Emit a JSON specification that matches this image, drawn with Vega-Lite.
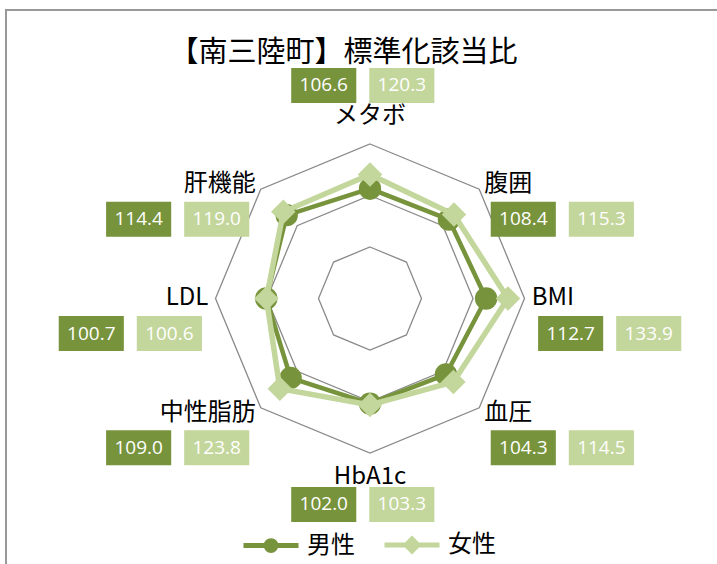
{
  "$schema": "https://vega.github.io/schema/vega-lite/v6.json",
  "width": 711,
  "height": 554,
  "autosize": {"type": "none"},
  "padding": {"left": 6, "top": 10, "right": 0, "bottom": 0},
  "background": "white",
  "config": {
    "view": {"stroke": "#999999", "strokeWidth": 2, "strokeDash": [711, 1265, 554]},
    "text": {"font": "Noto Sans CJK JP"}
  },
  "title": {
    "text": "【南三陸町】標準化該当比",
    "font": "Noto Sans CJK JP",
    "fontSize": 29,
    "fontWeight": "normal",
    "color": "#000000",
    "anchor": "middle",
    "frame": "group",
    "baseline": "middle",
    "offset": 0,
    "dx": -18,
    "dy": 72
  },
  "datasets": {
    "scores": [
      {"item": "メタボ", "sex": "男性", "value": 106.6},
      {"item": "腹囲", "sex": "男性", "value": 108.4},
      {"item": "BMI", "sex": "男性", "value": 112.7},
      {"item": "血圧", "sex": "男性", "value": 104.3},
      {"item": "HbA1c", "sex": "男性", "value": 102.0},
      {"item": "中性脂肪", "sex": "男性", "value": 109.0},
      {"item": "LDL", "sex": "男性", "value": 100.7},
      {"item": "肝機能", "sex": "男性", "value": 114.4},
      {"item": "メタボ", "sex": "女性", "value": 120.3},
      {"item": "腹囲", "sex": "女性", "value": 115.3},
      {"item": "BMI", "sex": "女性", "value": 133.9},
      {"item": "血圧", "sex": "女性", "value": 114.5},
      {"item": "HbA1c", "sex": "女性", "value": 103.3},
      {"item": "中性脂肪", "sex": "女性", "value": 123.8},
      {"item": "LDL", "sex": "女性", "value": 100.6},
      {"item": "肝機能", "sex": "女性", "value": 119.0}
    ],
    "grid": [
      {"item": "メタボ", "level": 50}, {"item": "腹囲", "level": 50}, {"item": "BMI", "level": 50}, {"item": "血圧", "level": 50},
      {"item": "HbA1c", "level": 50}, {"item": "中性脂肪", "level": 50}, {"item": "LDL", "level": 50}, {"item": "肝機能", "level": 50},
      {"item": "メタボ", "level": 100}, {"item": "腹囲", "level": 100}, {"item": "BMI", "level": 100}, {"item": "血圧", "level": 100},
      {"item": "HbA1c", "level": 100}, {"item": "中性脂肪", "level": 100}, {"item": "LDL", "level": 100}, {"item": "肝機能", "level": 100},
      {"item": "メタボ", "level": 150}, {"item": "腹囲", "level": 150}, {"item": "BMI", "level": 150}, {"item": "血圧", "level": 150},
      {"item": "HbA1c", "level": 150}, {"item": "中性脂肪", "level": 150}, {"item": "LDL", "level": 150}, {"item": "肝機能", "level": 150}
    ]
  },
  "layer": [
    {
      "data": {"name": "grid"},
      "transform": [
        {"calculate": "indexof(['メタボ','腹囲','BMI','血圧','HbA1c','中性脂肪','LDL','肝機能'], datum.item) * PI / 4", "as": "angle"},
        {"calculate": "datum.level * sin(datum.angle)", "as": "gx"},
        {"calculate": "datum.level * cos(datum.angle)", "as": "gy"}
      ],
      "mark": {"type": "line", "interpolate": "linear-closed", "stroke": "#8a8a8a", "strokeWidth": 1.3},
      "encoding": {
        "x": {"field": "gx", "type": "quantitative", "scale": {"domain": [-353.4, 336.89], "nice": false, "zero": false}, "axis": null},
        "y": {"field": "gy", "type": "quantitative", "scale": {"domain": [-257.77, 280.1], "nice": false, "zero": false}, "axis": null},
        "detail": {"field": "level", "type": "nominal"},
        "order": {"field": "angle", "type": "quantitative"}
      }
    },
    {
      "data": {"name": "scores"},
      "transform": [
        {"filter": "datum.sex == '男性'"},
        {"calculate": "indexof(['メタボ','腹囲','BMI','血圧','HbA1c','中性脂肪','LDL','肝機能'], datum.item) * PI / 4", "as": "angle"},
        {"calculate": "datum.value * sin(datum.angle)", "as": "px"},
        {"calculate": "datum.value * cos(datum.angle)", "as": "py"}
      ],
      "mark": {"type": "line", "interpolate": "linear-closed", "strokeWidth": 4.5},
      "encoding": {
        "x": {"field": "px", "type": "quantitative", "scale": {"domain": [-353.4, 336.89], "nice": false, "zero": false}, "axis": null},
        "y": {"field": "py", "type": "quantitative", "scale": {"domain": [-257.77, 280.1], "nice": false, "zero": false}, "axis": null},
        "color": {
          "field": "sex", "type": "nominal",
          "scale": {"domain": ["男性", "女性"], "range": ["#77933C", "#C3D69B"]},
          "legend": {
            "orient": "none", "legendX": 253, "legendY": 523, "direction": "horizontal", "title": null,
            "labelFont": "Noto Sans CJK JP", "labelFontSize": 24, "labelColor": "#000000",
            "symbolSize": 196, "symbolStrokeWidth": 5, "labelOffset": 24, "columnPadding": 19,
            "encode": {"symbols": {"update": {
              "shape": {"signal": "datum.value === '男性' ? 'M-3.93,0H3.93M-0.7,0A0.7,0.7 0 1,1 0.7,0A0.7,0.7 0 1,1 -0.7,0Z' : 'M-3.93,0H3.93M-0.85,0L0,-0.85L0.85,0L0,0.85Z'"},
              "fill": {"signal": "datum.value === '男性' ? '#77933C' : '#C3D69B'"},
              "stroke": {"signal": "datum.value === '男性' ? '#77933C' : '#C3D69B'"},
              "strokeWidth": {"value": 5},
              "opacity": {"value": 1}
            }}}
          }
        },
        "order": {"field": "angle", "type": "quantitative"}
      }
    },
    {
      "data": {"name": "scores"},
      "transform": [
        {"filter": "datum.sex == '男性'"},
        {"calculate": "indexof(['メタボ','腹囲','BMI','血圧','HbA1c','中性脂肪','LDL','肝機能'], datum.item) * PI / 4", "as": "angle"},
        {"calculate": "datum.value * sin(datum.angle)", "as": "px"},
        {"calculate": "datum.value * cos(datum.angle)", "as": "py"}
      ],
      "mark": {"type": "point", "shape": "circle", "filled": true, "size": 500, "opacity": 1},
      "encoding": {
        "x": {"field": "px", "type": "quantitative"},
        "y": {"field": "py", "type": "quantitative"},
        "color": {"field": "sex", "type": "nominal", "legend": null}
      }
    },
    {
      "data": {"name": "scores"},
      "transform": [
        {"filter": "datum.sex == '女性'"},
        {"calculate": "indexof(['メタボ','腹囲','BMI','血圧','HbA1c','中性脂肪','LDL','肝機能'], datum.item) * PI / 4", "as": "angle"},
        {"calculate": "datum.value * sin(datum.angle)", "as": "px"},
        {"calculate": "datum.value * cos(datum.angle)", "as": "py"}
      ],
      "mark": {"type": "line", "interpolate": "linear-closed", "strokeWidth": 5.5},
      "encoding": {
        "x": {"field": "px", "type": "quantitative"},
        "y": {"field": "py", "type": "quantitative"},
        "color": {"field": "sex", "type": "nominal", "legend": null},
        "order": {"field": "angle", "type": "quantitative"}
      }
    },
    {
      "data": {"name": "scores"},
      "transform": [
        {"filter": "datum.sex == '女性'"},
        {"calculate": "indexof(['メタボ','腹囲','BMI','血圧','HbA1c','中性脂肪','LDL','肝機能'], datum.item) * PI / 4", "as": "angle"},
        {"calculate": "datum.value * sin(datum.angle)", "as": "px"},
        {"calculate": "datum.value * cos(datum.angle)", "as": "py"}
      ],
      "mark": {"type": "point", "shape": "diamond", "filled": true, "size": 600, "opacity": 1},
      "encoding": {
        "x": {"field": "px", "type": "quantitative"},
        "y": {"field": "py", "type": "quantitative"},
        "color": {"field": "sex", "type": "nominal", "legend": null}
      }
    },
    {
      "data": {"name": "scores"},
      "transform": [
        {"filter": "datum.sex == '男性'"},
        {"calculate": "indexof(['メタボ','腹囲','BMI','血圧','HbA1c','中性脂肪','LDL','肝機能'], datum.item) * PI / 4", "as": "angle"},
        {"filter": "sin(datum.angle) > 0.1"},
        {"calculate": "157 * sin(datum.angle)", "as": "lx"},
        {"calculate": "157 * cos(datum.angle)", "as": "ly"}
      ],
      "mark": {"type": "text", "align": "left", "baseline": "middle", "fontSize": 24, "color": "#000000", "font": "Noto Sans CJK JP"},
      "encoding": {
        "x": {"field": "lx", "type": "quantitative"},
        "y": {"field": "ly", "type": "quantitative"},
        "text": {"field": "item"}
      }
    },
    {
      "data": {"name": "scores"},
      "transform": [
        {"filter": "datum.sex == '男性'"},
        {"calculate": "indexof(['メタボ','腹囲','BMI','血圧','HbA1c','中性脂肪','LDL','肝機能'], datum.item) * PI / 4", "as": "angle"},
        {"filter": "sin(datum.angle) < -0.1"},
        {"calculate": "157 * sin(datum.angle)", "as": "lx"},
        {"calculate": "157 * cos(datum.angle)", "as": "ly"}
      ],
      "mark": {"type": "text", "align": "right", "baseline": "middle", "fontSize": 24, "color": "#000000", "font": "Noto Sans CJK JP"},
      "encoding": {
        "x": {"field": "lx", "type": "quantitative"},
        "y": {"field": "ly", "type": "quantitative"},
        "text": {"field": "item"}
      }
    },
    {
      "data": {"name": "scores"},
      "transform": [
        {"filter": "datum.sex == '男性'"},
        {"calculate": "indexof(['メタボ','腹囲','BMI','血圧','HbA1c','中性脂肪','LDL','肝機能'], datum.item) * PI / 4", "as": "angle"},
        {"filter": "abs(sin(datum.angle)) < 0.1 && cos(datum.angle) > 0"},
        {"calculate": "157 * sin(datum.angle)", "as": "lx"},
        {"calculate": "157 * cos(datum.angle)", "as": "ly"}
      ],
      "mark": {"type": "text", "align": "center", "baseline": "middle", "dy": -21, "fontSize": 24, "color": "#000000", "font": "Noto Sans CJK JP"},
      "encoding": {
        "x": {"field": "lx", "type": "quantitative"},
        "y": {"field": "ly", "type": "quantitative"},
        "text": {"field": "item"}
      }
    },
    {
      "data": {"name": "scores"},
      "transform": [
        {"filter": "datum.sex == '男性'"},
        {"calculate": "indexof(['メタボ','腹囲','BMI','血圧','HbA1c','中性脂肪','LDL','肝機能'], datum.item) * PI / 4", "as": "angle"},
        {"filter": "abs(sin(datum.angle)) < 0.1 && cos(datum.angle) < 0"},
        {"calculate": "157 * sin(datum.angle)", "as": "lx"},
        {"calculate": "157 * cos(datum.angle)", "as": "ly"}
      ],
      "mark": {"type": "text", "align": "center", "baseline": "middle", "dy": 17, "fontSize": 24, "color": "#000000", "font": "Noto Sans CJK JP"},
      "encoding": {
        "x": {"field": "lx", "type": "quantitative"},
        "y": {"field": "ly", "type": "quantitative"},
        "text": {"field": "item"}
      }
    },
    {
      "data": {"name": "scores"},
      "transform": [
        {"calculate": "indexof(['メタボ','腹囲','BMI','血圧','HbA1c','中性脂肪','LDL','肝機能'], datum.item) * PI / 4", "as": "angle"},
        {"calculate": "abs(sin(datum.angle)) < 0.1 ? 0 : (sin(datum.angle) > 0 ? 1 : -1)", "as": "side"},
        {"calculate": "datum.side == 0 ? -7 : 157 * sin(datum.angle) + datum.side * 75.7", "as": "pcx"},
        {"calculate": "datum.side == 0 ? (cos(datum.angle) > 0 ? 206.8 : -200) : 157 * cos(datum.angle) - 34", "as": "pcy"},
        {"calculate": "datum.pcx + (datum.sex == '男性' ? -37.9 : 37.9)", "as": "bx"},
        {"calculate": "datum.bx - 31.6", "as": "bx1"},
        {"calculate": "datum.bx + 31.6", "as": "bx2"},
        {"calculate": "datum.pcy - 17", "as": "by1"},
        {"calculate": "datum.pcy + 17", "as": "by2"}
      ],
      "layer": [
        {
          "mark": {"type": "rect", "opacity": 1},
          "encoding": {
            "x": {"field": "bx1", "type": "quantitative"},
            "x2": {"field": "bx2"},
            "y": {"field": "by1", "type": "quantitative"},
            "y2": {"field": "by2"},
            "color": {"field": "sex", "type": "nominal", "legend": null}
          }
        },
        {
          "mark": {"type": "text", "align": "center", "baseline": "middle", "fontSize": 19, "color": "#ffffff", "font": "Open Sans"},
          "encoding": {
            "x": {"field": "bx", "type": "quantitative"},
            "y": {"field": "pcy", "type": "quantitative"},
            "text": {"field": "value", "type": "quantitative", "format": ".1f"}
          }
        }
      ]
    }
  ]
}
